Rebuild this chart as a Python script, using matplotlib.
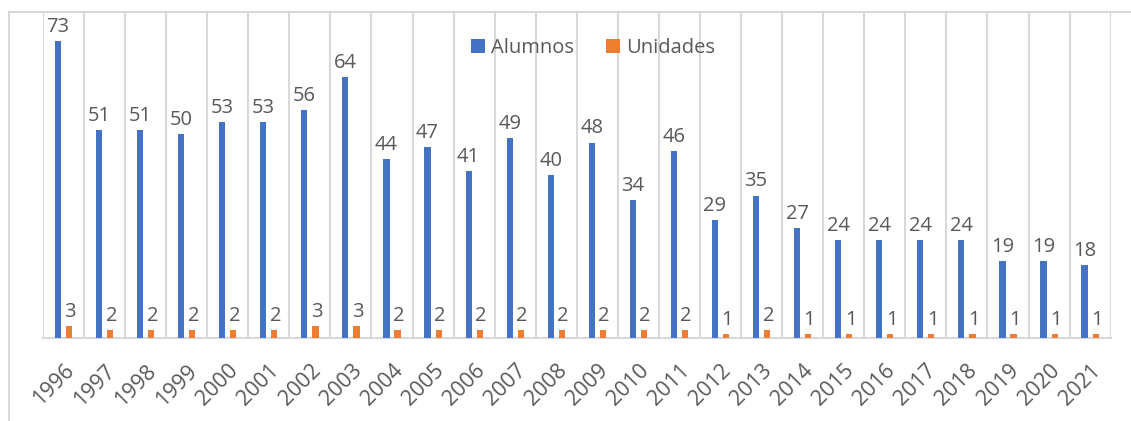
import numpy as np
import matplotlib.pyplot as plt
from matplotlib.lines import Line2D

plt.rcParams['font.family'] = ['Open Sans', 'DejaVu Sans']

anios = [str(a) for a in range(1996, 2022)]
alumnos = [73, 51, 51, 50, 53, 53, 56, 64, 44, 47, 41, 49, 40, 48, 34, 46,
           29, 35, 27, 24, 24, 24, 24, 19, 19, 18]
unidades = [3, 2, 2, 2, 2, 2, 3, 3, 2, 2, 2, 2, 2, 2, 2, 2,
            1, 2, 1, 1, 1, 1, 1, 1, 1, 1]

AZUL = "#4472C4"
NARANJA = "#ED7D31"
GRIS_TXT = "#595959"
GRIS_LIN = "#D9D9D9"

fig = plt.figure(figsize=(11.31, 4.21), dpi=100)
ax = fig.add_axes([0.038, 0.197, 0.944, 0.774])

x = np.arange(len(anios))
w = 0.15
off = 0.135
b1 = ax.bar(x - off, alumnos, w, color=AZUL, label="Alumnos", zorder=3)
b2 = ax.bar(x + off, unidades, w, color=NARANJA, label="Unidades", zorder=3)

for rect, v in zip(b1, alumnos):
    ax.text(rect.get_x() + rect.get_width() / 2, v + 1.0, str(v),
            ha="center", va="bottom", fontsize=14.5, color=GRIS_TXT)
for rect, v in zip(b2, unidades):
    ax.text(rect.get_x() + rect.get_width() / 2 + 0.03, v + 1.0, str(v),
            ha="center", va="bottom", fontsize=14.5, color=GRIS_TXT)

ax.set_xlim(-0.5, len(anios) - 0.5)
ax.set_ylim(0, 80)

# lineas verticales entre categorias
for b in np.arange(-0.5, len(anios) + 0.5, 1):
    ax.axvline(b, color=GRIS_LIN, lw=1.5, zorder=1)

for s in ["top", "right", "left"]:
    ax.spines[s].set_visible(False)
ax.spines["bottom"].set_color(GRIS_LIN)
ax.spines["bottom"].set_linewidth(1.5)
ax.set_yticks([])
ax.set_xticks(x)
ax.set_xticklabels(anios, rotation=45, ha="right", rotation_mode="anchor",
                   fontsize=15.5, color=GRIS_TXT)
ax.tick_params(axis="x", length=0, pad=16)

leg = ax.legend(loc="upper center", bbox_to_anchor=(0.515, 0.975), ncol=2,
                frameon=False, fontsize=14.5, handlelength=0.7, handleheight=0.7,
                columnspacing=1.6, handletextpad=0.3, labelcolor=GRIS_TXT)

# marco exterior del grafico
fig.add_artist(Line2D([9 / 1131, 9 / 1131], [0, 1 - 12 / 421], color=GRIS_LIN,
                      lw=1.5, transform=fig.transFigure))
fig.add_artist(Line2D([9 / 1131, 1], [1 - 12 / 421, 1 - 12 / 421], color=GRIS_LIN,
                      lw=1.5, transform=fig.transFigure))

fig.savefig("out.png", dpi=100)
